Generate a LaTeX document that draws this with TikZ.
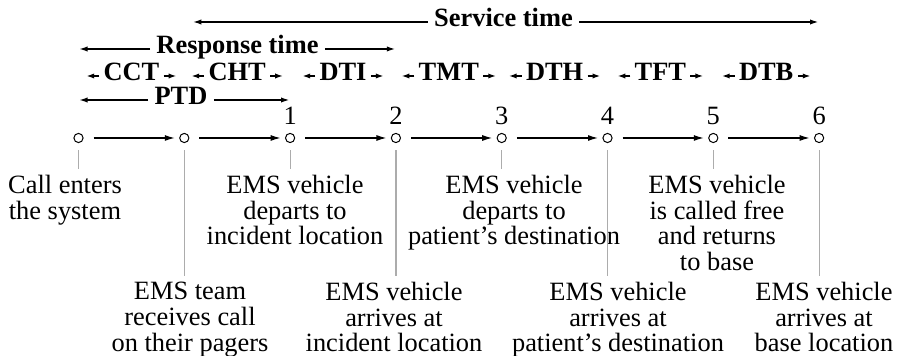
\documentclass[tikz,border=0pt]{standalone}
\usepackage{fontspec}
\setmainfont{Liberation Serif}
\usetikzlibrary{arrows.meta,positioning}
\begin{document}
\begin{tikzpicture}[x=0.5pt,y=-0.5pt,font=\fontsize{13.2}{12.8}\selectfont]
					\tikzstyle{event} = [circle,draw,inner sep=0,minimum size=4.6pt,line width=0.5pt]
					\tikzstyle{link} = [-{Latex[length=5pt,width=3pt]},line width=0.6pt,shorten <=5pt,shorten >=2.2pt]
					\tikzstyle{tick} = [gray!65,line width=0.6pt,shorten <=3.6pt,shorten >=3pt]
					\tikzstyle{num} = [inner sep=0]
					\tikzstyle{desc} = [align=center,anchor=north,inner sep=0]
					\tikzstyle{lbl} = [font=\fontsize{13.2}{12.8}\selectfont\bfseries,anchor=mid,inner sep=0]
					\tikzstyle{span} = [-{Latex[length=4.5pt,width=2.6pt]},line width=0.9pt,shorten <=3pt]
					\tikzstyle{small} = [-{Latex[length=4pt,width=2.6pt]},line width=0.9pt]
					\useasboundingbox (0,0) rectangle (899,356);
					\foreach \i in {0,...,7}
						\node [event] (c\i) at (78.5+105.8*\i,138) {};
					\foreach \i/\j in {0/1,1/2,2/3,3/4,4/5,5/6,6/7}
						\draw [link] (c\i) -- (c\j);
					\foreach \i/\k in {2/1,3/2,4/3,5/4,6/5,7/6}
						\node [num, above=4pt of c\i] (n\k) {\k};
					
					\node [desc] (e0) at (65,175) {Call enters\\the system};
					\node [desc] (e1) at (190,282) {EMS team\\receives call\\on their pagers};
					\node [desc] (e2) at (295,175) {EMS vehicle\\departs to\\incident location};
					\node [desc] (e3) at (394,282) {EMS vehicle\\arrives at\\incident location};
					\node [desc] (e4) at (514,175) {EMS vehicle\\departs to\\patient's destination};
					\node [desc] (e5) at (618,282) {EMS vehicle\\arrives at\\patient's destination};
					\node [desc] (e6) at (717,175) {EMS vehicle\\is called free\\and returns\\to base};
					\node [desc] (e7) at (824,282) {EMS vehicle\\arrives at\\base location};
					\foreach \i in {0,...,7}
						\draw [tick] (c\i.south) -- (c\i |- e\i.north);
					
					\node [lbl] (serv) at (503.5,22) {Service time};
					\draw [span] (serv.mid west) -- ([xshift=4pt]c1 |- serv.mid);
					\draw [span] (serv.mid east) -- (c7 |- serv.mid);
					\node [lbl] (resp) at (237.5,49) {Response time};
					\draw [span] (resp.mid west) -- (c0 |- resp.mid);
					\draw [span] (resp.mid east) -- (c3 |- resp.mid);
					\node [lbl] (ptd) at (181,100) {PTD};
					\draw [span] (ptd.mid west) -- (c0 |- ptd.mid);
					\draw [span] (ptd.mid east) -- (c2 |- ptd.mid);
					\foreach \name/\lab [count=\i from 0] in {cct/CCT,cht/CHT,dti/DTI,tmt/TMT,dth/DTH,tft/TFT,dtb/DTB} {
						\node [lbl] (\name) at (131.4+105.8*\i,76) {\lab};
						\draw [small] ([xshift=-2pt]\name.mid west) -- ([xshift=-8.5pt]\name.mid west);
						\draw [small] ([xshift=2pt]\name.mid east) -- ([xshift=8.5pt]\name.mid east);
					}
					\end{tikzpicture}
\end{document}
